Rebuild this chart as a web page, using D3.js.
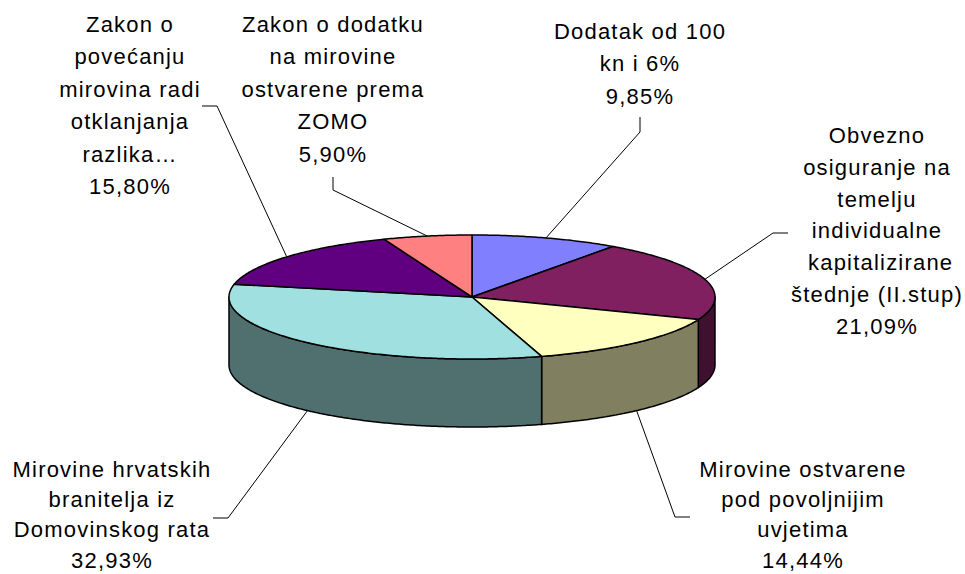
<!DOCTYPE html>
<html>
<head>
<meta charset="utf-8">
<script src="https://cdn.jsdelivr.net/npm/d3@7"></script>
<style>
  html, body { margin: 0; padding: 0; background: #fff; }
  text { font-family: "Liberation Sans", Arial, sans-serif; font-size: 22px; letter-spacing: 1.2px; fill: #000; white-space: pre; }
</style>
</head>
<body>
<div id="container"></div>
<script>
// slices, clockwise from 12 o'clock
const names = [
    ["Dodatak od 100", "kn i 6%"],
    ["Obvezno", "osiguranje na", "temelju", "individualne", " kapitalizirane", "štednje (II.stup)"],
    ["Mirovine ostvarene", "pod povoljnijim", "uvjetima"],
    ["Mirovine hrvatskih", "branitelja iz", "Domovinskog rata"],
    ["Zakon o", "povećanju", "mirovina radi", "otklanjanja", "razlika…"],
    ["Zakon o dodatku", "na mirovine", "ostvarene prema", "ZOMO"]
]
const values = [9.85, 21.09, 14.44, 32.93, 15.80, 5.90]
const percentLabels = ["9,85%", "21,09%", "14,44%", "32,93%", "15,80%", "5,90%"]

const colors = ["#8080FF", "#802060", "#FFFFC0", "#A0E0E0", "#600080", "#FF8080"]

// label layout: text centre, first baseline, line step, leader end and elbow
const labelPos = [
    {x: 640, y: 39,  step: 32.4, end: [640, 117], elbow: [640, 132]},
    {x: 877, y: 143, step: 31.8, end: [788, 233], elbow: [773, 233]},
    {x: 803, y: 477, step: 30.2, end: [690, 517], elbow: [675, 517]},
    {x: 112, y: 477, step: 30.2, end: [213, 518], elbow: [228, 518]},
    {x: 130, y: 32,  step: 32.4, end: [202, 106], elbow: [217, 106]},
    {x: 333, y: 32,  step: 32.4, end: [333, 177], elbow: [333, 190]}
]

let w = 965, h = 574
let cx = 472, cy = 297, rx = 243, ry = 62, depth = 68

let svg = d3.select("#container").append("svg")
    .attr("width", w)
    .attr("height", h)

let pie = d3.pie().sort(null).value(d => d)
let arcs = pie(values)

let px = a => cx + rx * Math.sin(a)
let py = a => cy - ry * Math.cos(a)

function edgePts(a0, a1, dy) {
    let n = Math.max(2, Math.ceil((a1 - a0) / 0.01))
    return d3.range(n + 1).map(i => {
        let a = a0 + (a1 - a0) * i / n
        return [px(a), py(a) + dy]
    })
}

let line = d3.line()

// side walls (front half only)
let g = svg.append("g")
arcs.forEach((d, i) => {
    let a0 = Math.max(d.startAngle, Math.PI / 2)
    let a1 = Math.min(d.endAngle, 3 * Math.PI / 2)
    if (a1 <= a0) return
    let top = edgePts(a0, a1, 0)
    let bottom = edgePts(a0, a1, depth).reverse()
    let c = d3.rgb(colors[i])
    g.append("path")
        .attr("d", line(top.concat(bottom)) + "Z")
        .attr("fill", d3.rgb(c.r * 0.5, c.g * 0.5, c.b * 0.5))
        .attr("stroke", "#000")
        .attr("stroke-width", 1.5)
        .attr("stroke-linejoin", "round")
})

// top faces
arcs.forEach((d, i) => {
    let pts = [[cx, cy]].concat(edgePts(d.startAngle, d.endAngle, 0))
    g.append("path")
        .attr("d", line(pts) + "Z")
        .attr("fill", colors[i])
        .attr("stroke", "#000")
        .attr("stroke-width", 1.5)
        .attr("stroke-linejoin", "round")
})

// leader lines + labels
arcs.forEach((d, i) => {
    let mid = (d.startAngle + d.endAngle) / 2
    let onFront = Math.cos(mid) < -0.3
    let anchor = [px(mid), py(mid) + (onFront ? depth : 0)]
    let p = labelPos[i]
    svg.append("path")
        .attr("d", line([p.end, p.elbow, anchor]))
        .attr("fill", "none")
        .attr("stroke", "#000")
        .attr("stroke-width", 1)

    let t = svg.append("text")
        .attr("text-anchor", "middle")
    names[i].concat([percentLabels[i]]).forEach((s, k) => {
        t.append("tspan")
            .attr("x", p.x)
            .attr("y", p.y + k * p.step)
            .text(s)
    })
})
</script>
</body>
</html>
